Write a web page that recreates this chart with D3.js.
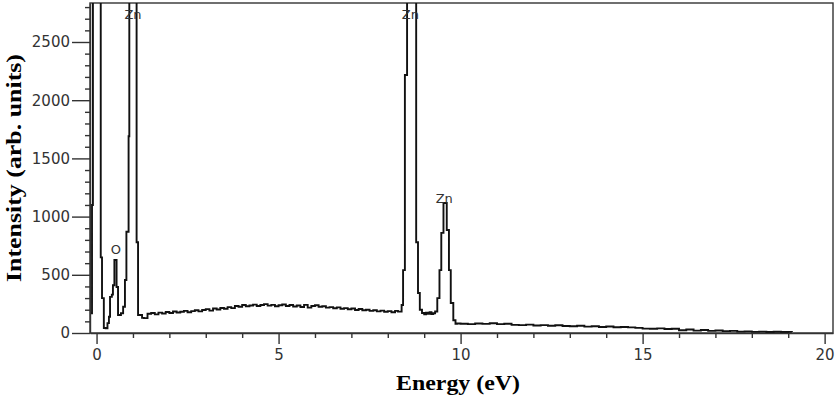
<!DOCTYPE html>
<html>
<head>
<meta charset="utf-8">
<script src="https://cdn.jsdelivr.net/npm/d3@7"></script>
<style>
body { margin: 0; background: #fff; }
</style>
</head>
<body>
<div id="chart"></div>
<script>
// EDX spectrum
var energy = [
  -0.17, -0.125, -0.10, 0.115, 0.15, 0.20, 0.25, 0.30, 0.34, 0.37, 0.42, 0.45, 0.49, 0.55, 0.59,
  0.67, 0.73, 0.78, 0.82, 0.88, 0.90, 1.10, 1.14, 1.25,
  1.3, 1.4, 1.5, 1.6, 1.7, 1.8, 1.9, 2.0, 2.1, 2.2, 2.3, 2.4, 2.5, 2.6, 2.7, 2.8, 2.9,
  3.0, 3.1, 3.2, 3.3, 3.4, 3.5, 3.6, 3.7, 3.8, 3.9, 4.0, 4.1, 4.2, 4.3, 4.4, 4.5, 4.6, 4.7, 4.8, 4.9,
  5.0, 5.1, 5.2, 5.3, 5.4, 5.5, 5.6, 5.7, 5.8, 5.9, 6.0, 6.1, 6.2, 6.3, 6.4, 6.5, 6.6, 6.7, 6.8, 6.9,
  7.0, 7.1, 7.2, 7.3, 7.4, 7.5, 7.6, 7.7, 7.8, 7.9, 8.0, 8.1, 8.2, 8.28,
  8.38, 8.42, 8.47, 8.53, 8.78, 8.83, 8.88, 8.94, 9.0, 9.05, 9.1, 9.15, 9.2, 9.25, 9.3,
  9.36, 9.42, 9.47, 9.53, 9.62, 9.68, 9.73, 9.80, 9.86, 9.9,
  10.0, 10.2, 10.4, 10.6, 10.8, 11.0, 11.2, 11.4, 11.6, 11.8, 12.0, 12.2, 12.4, 12.6, 12.8,
  13.0, 13.2, 13.4, 13.6, 13.8, 14.0, 14.2, 14.4, 14.6, 14.8, 15.0, 15.2, 15.4, 15.6, 15.8,
  16.0, 16.2, 16.4, 16.6, 16.8, 17.0, 17.2, 17.4, 17.6, 17.8, 18.0, 18.2, 18.4, 18.6, 18.8, 19.0, 19.1
];
var counts = [
  170, 1100, 9000, 650, 300, 43, 40, 85, 140, 310, 330, 410, 627, 395, 155,
  170, 225, 455, 870, 1690, 6000, 780, 155, 130,
  128, 165, 172, 160, 175, 168, 180, 172, 185, 176, 182, 190, 178, 188, 195, 186, 198,
  205, 192, 210, 202, 215, 208, 222, 214, 232, 225, 240, 230, 236, 244, 232, 240, 248, 235, 242, 230,
  238, 245, 232, 240, 228, 236, 224, 242, 218, 232, 238, 226, 230, 218, 222, 212, 220, 208, 214, 204,
  210, 198, 206, 195, 200, 190, 196, 186, 192, 182, 188, 178, 190, 184,
  240, 540, 2216, 6000, 780, 343, 200, 172, 160, 175, 165, 178, 162, 170, 185,
  300, 540, 860, 1117, 885, 540, 258, 110, 78, 82,
  80, 76, 82, 78, 84, 76, 80, 70, 68, 72, 64, 68, 62, 66, 60,
  58, 62, 55, 58, 52, 56, 50, 52, 48, 44, 38, 36, 40, 34, 36,
  24, 30, 20, 26, 18, 22, 16, 18, 12, 14, 10, 12, 9, 11, 8, 10, 8
];

var peakLabels = ["Zn", "O", "Zn", "Zn"];
var peakE = [1.0, 0.53, 8.62, 9.55];
var peakC = [2740, 720, 2740, 1158];

var xTicks = [0, 5, 10, 15, 20];
var yTicks = [0, 500, 1000, 1500, 2000, 2500];

var margin = {top: 3, right: 4, bottom: 64, left: 90},
    width = 837 - margin.left - margin.right,
    height = 397 - margin.top - margin.bottom;

var x = d3.scaleLinear().domain([-0.18, 20.23]).range([0, width]);
var y = d3.scaleLinear().domain([0, 2835]).range([height, 0]);

var svg = d3.select("#chart").append("svg")
    .attr("width", width + margin.left + margin.right)
    .attr("height", height + margin.top + margin.bottom)
  .append("g")
    .attr("transform", "translate(" + margin.left + "," + margin.top + ")");

svg.append("clipPath").attr("id", "plot")
  .append("rect").attr("width", width).attr("height", height);

// frame
svg.append("rect")
    .attr("width", width)
    .attr("height", height)
    .attr("fill", "none")
    .attr("stroke", "#333")
    .attr("stroke-width", 1.4);

var pts = energy.map(function(e, i) { return [e, counts[i]]; });

svg.append("path")
    .datum(pts)
    .attr("clip-path", "url(#plot)")
    .attr("fill", "none")
    .attr("stroke", "#111")
    .attr("stroke-width", 1.9)
    .attr("d", d3.line()
      .x(function(d) { return x(d[0]); })
      .y(function(d) { return y(d[1]); })
      .curve(d3.curveStepAfter));

// minor ticks
svg.append("g")
    .attr("transform", "translate(0," + height + ")")
    .call(d3.axisBottom(x).tickValues(d3.range(0, 21).filter(function(v) { return v % 5; }))
      .tickSize(5).tickFormat(""))
    .call(function(g) { g.select(".domain").remove(); });

svg.append("g")
    .call(d3.axisLeft(y).tickValues(d3.range(0, 2801, 100).filter(function(v) { return v % 500; }))
      .tickSize(5).tickFormat(""))
    .call(function(g) { g.select(".domain").remove(); });

// Add the X Axis
svg.append("g")
    .attr("transform", "translate(0," + height + ")")
    .call(d3.axisBottom(x).tickValues(xTicks).tickFormat(d3.format("d"))
      .tickSize(11).tickSizeOuter(0).tickPadding(5));

// Add the Y Axis
svg.append("g")
    .call(d3.axisLeft(y).tickValues(yTicks).tickFormat(d3.format("d"))
      .tickSize(18).tickSizeOuter(0).tickPadding(2));

svg.selectAll(".tick line, .domain").attr("stroke", "#333").attr("stroke-width", 1.4);
svg.selectAll(".tick text")
    .style("font", "15px 'DejaVu Sans'")
    .attr("fill", "#333");

// peak labels
svg.selectAll(".peak")
    .data(peakLabels)
    .enter().append("text")
    .attr("class", "peak")
    .attr("x", function(d, i) { return x(peakE[i]); })
    .attr("y", function(d, i) { return y(peakC[i]); })
    .attr("dy", "0.36em")
    .attr("text-anchor", "middle")
    .style("font", "13px 'DejaVu Sans'")
    .attr("fill", "#333")
    .text(function(d) { return d; });

svg.append("text")
    .attr("transform", "rotate(-90)")
    .attr("x", -(168 - margin.top))
    .attr("y", 21 - margin.left)
    .attr("text-anchor", "middle")
    .attr("textLength", 228)
    .attr("lengthAdjust", "spacingAndGlyphs")
    .style("font", "bold 21px 'Liberation Serif'")
    .text("Intensity (arb. units)");

svg.append("text")
    .attr("x", 458 - margin.left)
    .attr("y", 390 - margin.top)
    .attr("text-anchor", "middle")
    .attr("textLength", 124)
    .attr("lengthAdjust", "spacingAndGlyphs")
    .style("font", "bold 21px 'Liberation Serif'")
    .text("Energy (eV)");
</script>
</body>
</html>
